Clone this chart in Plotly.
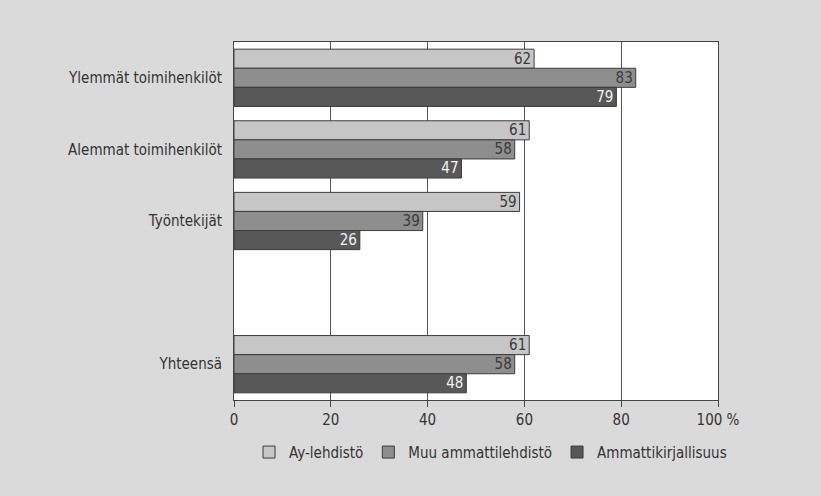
import plotly.graph_objects as go

categories = ["Ylemmät toimihenkilöt", "Alemmat toimihenkilöt", "Työntekijät", " ", "Yhteensä"]
ay_lehdisto = [62, 61, 59, None, 61]
muu_ammattilehdisto = [83, 58, 39, None, 58]
ammattikirjallisuus = [79, 47, 26, None, 48]
series_names = ["Ay-lehdistö", "Muu ammattilehdistö", "Ammattikirjallisuus"]
x_ticks = [0, 20, 40, 60, 80, 100]
x_tick_labels = ["0", "20", "40", "60", "80", "100 %"]

FONT = "DejaVu Sans Condensed, Roboto, Arial, sans-serif"
fills = ["#c6c6c6", "#8e8e8e", "#585858"]
text_colors = ["#3a3a3a", "#3a3a3a", "#f2f2f2"]

fig = go.Figure()
for name, vals, fill, tc in zip(series_names,
                                [ay_lehdisto, muu_ammattilehdisto, ammattikirjallisuus],
                                fills, text_colors):
    fig.add_trace(go.Bar(
        y=categories, x=vals, name=name, orientation="h",
        marker=dict(color=fill, line=dict(color="#3c3c3c", width=1)),
        text=[str(v) if v is not None else "" for v in vals],
        textposition="inside", insidetextanchor="end", textangle=0,
        constraintext="none",
        textfont=dict(family=FONT, size=15, color=tc),
        cliponaxis=False,
    ))

fig.update_layout(
    width=821, height=496,
    margin=dict(l=234, r=103, t=42, b=96, autoexpand=False),
    paper_bgcolor="#dadada", plot_bgcolor="#ffffff",
    barmode="group", bargap=0.2, bargroupgap=0,
    font=dict(family=FONT, size=15, color="#333333"),
    showlegend=True,
    legend=dict(orientation="h", x=0.53, xanchor="center", y=-0.1, yanchor="top",
                font=dict(family=FONT, size=15, color="#333333"),
                bgcolor="rgba(0,0,0,0)", itemwidth=30, tracegroupgap=0),
)
fig.update_xaxes(
    range=[0, 100], tickvals=x_ticks, ticktext=x_tick_labels,
    showgrid=True, gridcolor="#555555", gridwidth=1,
    showline=True, linecolor="#444444", linewidth=1, mirror=True,
    ticks="outside", ticklen=6, tickcolor="#444444", zeroline=False,
    tickfont=dict(family=FONT, size=15, color="#333333"),
)
fig.update_yaxes(
    autorange="reversed", showgrid=False,
    showline=True, linecolor="#444444", linewidth=1, mirror=True,
    ticks="", ticklabelstandoff=8,
    tickfont=dict(family=FONT, size=15, color="#333333"),
)

fig.write_html("out.html", config={"displayModeBar": False},
               post_script="document.body.style.margin='0';")
